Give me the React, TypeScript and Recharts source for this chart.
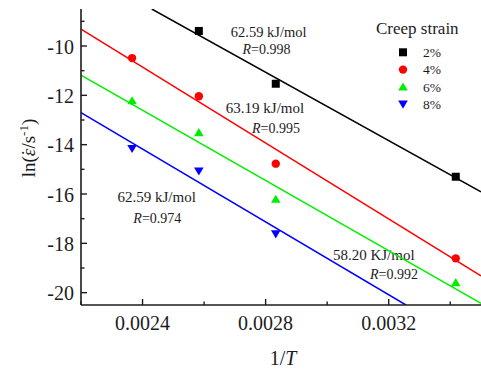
import React from 'react';
import { ComposedChart, Scatter, Line, XAxis, YAxis, Legend } from 'recharts';

// reciprocal temperature (1/K) at which the creep rates were taken
const invT = [0.002366, 0.002583, 0.002833, 0.003418];

// ln(strain rate) per creep strain level, null where no point was measured
const strain2 = [null, -9.39, -11.53, -15.3];
const strain4 = [-10.49, -12.04, -14.77, -18.61];
const strain6 = [-12.22, -13.51, -16.21, -19.59];
const strain8 = [-14.16, -15.07, -17.62, null];

// Arrhenius fit lines, as their two end points
const fit2X = [0.00243, 0.0035];
const fit2Y = [-8.5, -15.91];
const fit4X = [0.0022, 0.0035];
const fit4Y = [-9.32, -19.32];
const fit6X = [0.0022, 0.0035];
const fit6Y = [-11.18, -20.43];
const fit8X = [0.0022, 0.003256];
const fit8Y = [-12.7, -20.5];

const xTicks = [0.0022, 0.0024, 0.0026, 0.0028, 0.003, 0.0032, 0.0034];
const xMajor = [0.0024, 0.0028, 0.0032];
const yTicks = [-20, -19, -18, -17, -16, -15, -14, -13, -12, -11, -10, -9];
const yMajor = [-20, -18, -16, -14, -12, -10];

const seriesNames = ['2%', '4%', '6%', '8%'];
const energies = ['62.59 kJ/mol', '63.19 kJ/mol', '62.59 kJ/mol', '58.20 KJ/mol'];
const rValues = ['0.998', '0.995', '0.974', '0.992'];

const FONT = '"Liberation Serif", "Times New Roman", serif';
const INK = '#1c1c1c';

const toPoints = (xs: number[], ys: (number | null)[]) =>
  xs.map((x, i) => ({ x, y: ys[i] })).filter((p) => p.y !== null);

const series = [
  { name: seriesNames[0], color: '#000000', kind: 'square', pts: toPoints(invT, strain2), fit: toPoints(fit2X, fit2Y) },
  { name: seriesNames[1], color: '#ff0000', kind: 'circle', pts: toPoints(invT, strain4), fit: toPoints(fit4X, fit4Y) },
  { name: seriesNames[2], color: '#00ee00', kind: 'up', pts: toPoints(invT, strain6), fit: toPoints(fit6X, fit6Y) },
  { name: seriesNames[3], color: '#0000ff', kind: 'down', pts: toPoints(invT, strain8), fit: toPoints(fit8X, fit8Y) },
];

function Marker({ kind, cx, cy, fill }: { kind: string; cx: number; cy: number; fill: string }) {
  if (kind === 'square') return <rect x={cx - 4} y={cy - 4} width={8} height={8} fill={fill} />;
  if (kind === 'circle') return <circle cx={cx} cy={cy} r={4.2} fill={fill} />;
  if (kind === 'up')
    return <polygon points={`${cx},${cy - 4.5} ${cx + 4.8},${cy + 3.6} ${cx - 4.8},${cy + 3.6}`} fill={fill} />;
  return <polygon points={`${cx},${cy + 4.5} ${cx + 4.8},${cy - 3.6} ${cx - 4.8},${cy - 3.6}`} fill={fill} />;
}

const near = (list: number[], v: number) => list.some((t) => Math.abs(t - v) < 1e-9);

// ticks point into the plot; only the bottom axis carries labels
function XTick(props: any) {
  const { x, y, payload, side } = props;
  const major = near(xMajor, payload.value);
  const len = major ? 6 : 3.5;
  const dir = side === 'top' ? 1 : -1;
  return (
    <g>
      <line x1={x} x2={x} y1={y} y2={y + dir * len} stroke={INK} strokeWidth={1.4} />
      {side === 'bottom' && major && (
        <text x={x} y={y + 25} textAnchor="middle" fontFamily={FONT} fontSize={20} fill={INK}>
          {payload.value.toFixed(4)}
        </text>
      )}
    </g>
  );
}

function YTick(props: any) {
  const { x, y, payload } = props;
  const major = near(yMajor, payload.value);
  return (
    <g>
      <line x1={x} x2={x + (major ? 6 : 3.5)} y1={y} y2={y} stroke={INK} strokeWidth={1.4} />
      {major && (
        <text x={x - 7} y={y + 7.5} textAnchor="end" fontFamily={FONT} fontSize={20} fill={INK}>
          {String(payload.value)}
        </text>
      )}
    </g>
  );
}

function XLabel(props: any) {
  const vb = props.viewBox;
  return (
    <text x={vb.x + vb.width / 2 + 2} y={vb.y + 60} textAnchor="middle" fontFamily={FONT} fontSize={20} fill={INK}>
      1/<tspan fontStyle="italic">T</tspan>
    </text>
  );
}

function YLabel(props: any) {
  const vb = props.viewBox;
  const cx = 35;
  const cy = vb.y + vb.height / 2 - 9;
  return (
    <text
      x={cx}
      y={cy}
      transform={`rotate(-90 ${cx} ${cy})`}
      textAnchor="middle"
      fontFamily={FONT}
      fontSize={19}
      fill={INK}
    >
      ln(<tspan fontStyle="italic">{'\u03B5'}</tspan>
      <tspan dx={-7.2}>{'\u02D9'}</tspan>
      <tspan dx={1}>/s</tspan>
      <tspan dy={-7} fontSize={13}>-1</tspan>
      <tspan dy={7}>)</tspan>
    </text>
  );
}

function LegendBox() {
  return (
    <svg width={120} height={105} style={{ display: 'block', fontFamily: FONT }}>
      <text x={16} y={24} fontFamily={FONT} fontSize={17} fill={INK}>
        Creep strain
      </text>
      {series.map((s, i) => {
        const cy = 42.3 + i * 17.3;
        return (
          <g key={s.name}>
            <Marker kind={s.kind} cx={43} cy={cy} fill={s.color} />
            <text x={63} y={cy + 4.6} fontFamily={FONT} fontSize={13.5} fill={INK}>
              {s.name}
            </text>
          </g>
        );
      })}
    </svg>
  );
}

// activation energy and correlation coefficient next to each fit
const notePos = [
  { x: 268.7, y: 37, rx: 266.5, ry: 54, size: 14.5 },
  { x: 265, y: 113.3, rx: 276, ry: 133.3, size: 15 },
  { x: 156.7, y: 201.7, rx: 157.3, ry: 223.3, size: 15 },
  { x: 373.8, y: 260, rx: 394, ry: 279.3, size: 15 },
];

export default function App() {
  return (
    <div style={{ position: 'absolute', left: 0, top: 0, background: '#fff' }}>
      <ComposedChart width={481} height={371} margin={{ top: 9, right: 0, bottom: 0, left: 0 }}>
        <XAxis
          xAxisId={0}
          type="number"
          dataKey="x"
          domain={[0.0022, 0.0035]}
          allowDataOverflow
          ticks={xTicks}
          interval={0}
          height={66}
          tickSize={0}
          tickMargin={0}
          tick={<XTick side="bottom" />}
          axisLine={{ stroke: INK, strokeWidth: 1.6 }}
          label={{ content: <XLabel /> }}
        />
        <XAxis
          xAxisId="top"
          orientation="top"
          type="number"
          dataKey="x"
          domain={[0.0022, 0.0035]}
          allowDataOverflow
          ticks={xTicks}
          interval={0}
          height={0}
          tickSize={0}
          tickMargin={0}
          tick={<XTick side="top" />}
          axisLine={{ stroke: INK, strokeWidth: 1.6 }}
        />
        <YAxis
          type="number"
          dataKey="y"
          domain={[-20.5, -8.5]}
          allowDataOverflow
          ticks={yTicks}
          interval={0}
          width={81}
          tickSize={0}
          tickMargin={0}
          tick={<YTick />}
          axisLine={{ stroke: INK, strokeWidth: 1.6 }}
          label={{ content: <YLabel /> }}
        />
        <Legend
          layout="vertical"
          align="center"
          verticalAlign="middle"
          wrapperStyle={{ top: 10, left: 360, width: 120, height: 105 }}
          content={<LegendBox />}
        />
        {series.map((s) => (
          <Line
            key={`fit-${s.name}`}
            data={s.fit}
            dataKey="y"
            stroke={s.color}
            strokeWidth={1.5}
            dot={false}
            activeDot={false}
            legendType="none"
            isAnimationActive={false}
          />
        ))}
        {series.map((s) => (
          <Scatter
            key={s.name}
            name={s.name}
            data={s.pts}
            dataKey="y"
            fill={s.color}
            isAnimationActive={false}
            shape={(p: any) => <Marker kind={s.kind} cx={p.cx} cy={p.cy} fill={s.color} />}
          />
        ))}
        <g fontFamily={FONT} fill={INK}>
          {notePos.map((n, i) => (
            <g key={i}>
              <text x={n.x} y={n.y} textAnchor="middle" fontSize={n.size}>
                {energies[i]}
              </text>
              <text x={n.rx} y={n.ry} textAnchor="middle" fontSize={14}>
                <tspan fontStyle="italic">R</tspan>={rValues[i]}
              </text>
            </g>
          ))}
        </g>
      </ComposedChart>
    </div>
  );
}
